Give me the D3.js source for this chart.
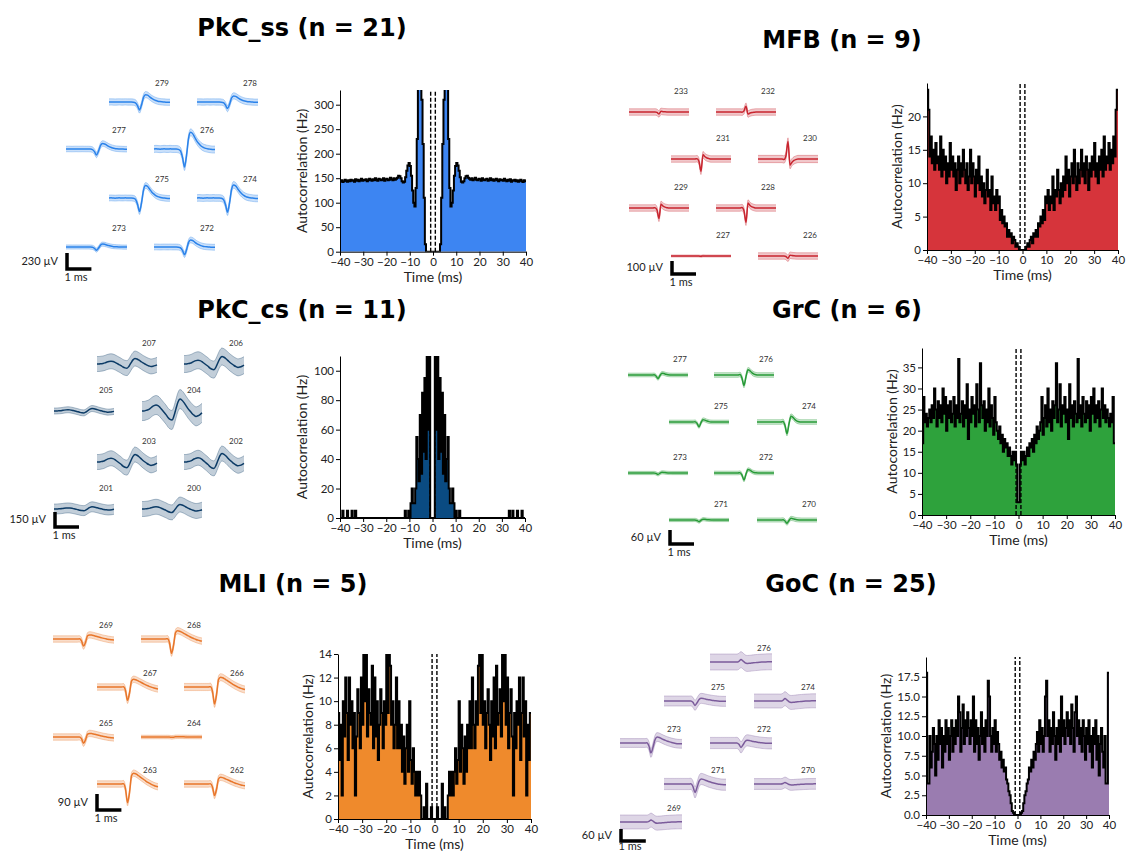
<!DOCTYPE html>
<html>
<head>
<meta charset="utf-8">
<script src="https://cdn.jsdelivr.net/npm/d3@7"></script>
<style>
body { margin: 0; background: #fff; }
svg text { font-family: Lato, "DejaVu Sans", sans-serif; fill: #222; }
.title { font-family: "DejaVu Sans", sans-serif; font-weight: bold; font-size: 24px; fill: #000; }
.tick text { font-size: 11.5px; }
.lab { font-size: 14px; }
.num { font-size: 8px; fill: #333; }
.bartxt { font-size: 11px; }
</style>
</head>
<body>
<div id="chart"></div>
<script>
// ACG bins are 0.5 ms wide; only the 0..40 ms half is stored (ACGs are symmetric)
const binWidth = 0.5;

const pkcSsAcg = [0,0,0,0,0,0,15,110,220,310,380,390,340,230,130,92,100,125,155,175,
  181,176,165,152,143,141,144,150,154,155,151,149,
  147,150,146,148,151,147,146,149,148,145,150,147,146,148,149,145,
  147,150,146,148,145,147,149,146,144,148,146,147,145,149,146,144,
  147,145,148,143,146,145,147,144,146,143,145,147,144,142,146,144];

const pkcCsAcg = [0,0,130,60,120,40,95,45,85,30,70,25,40,55,20,10,10,20,10,0,
  5,0,0,5,0,0,0,0,0,0,0,0,0,0,0,0,0,0,0,0,
  0,0,0,0,0,0,0,0,0,0,0,0,0,0,0,0,0,0,0,0,
  0,0,0,0,0,0,5,0,0,5,0,0,0,5,0,0,0,5,0,0];

const mliAcg = [0,0,1,0,0,0,3,0,1,0,0,2,4,2,4,2,4,6,3,5,
  10,4,8,6,3,7,4,8,6,10,6,12,8,6,10,8,13,14,9,14,
  8,10,6,9,11,8,5,10,7,12,6,13,8,9,11,7,14,10,14,8,
  12,6,9,11,7,2,9,6,10,8,12,5,9,12,7,10,2,8,5,9];

const mfbAcg = [0,0,0,0.5,1,0.5,1.5,2,1,2.5,2,3,2,4,3.5,5,4,6,4.5,8,
  7,9,6,8,7,11,6,9,8,12,9,7,10,8,11,9,14,10,12,8,
  11,13,10,15,11,9,13,10,12,15,11,13,10,14,12,9,13,11,14,12,
  16,11,13,10,14,12,15,11,17,12,14,13,16,12,15,13,17,14,21,24];

const grcAcg = [3,12,15,13,15,12,14,16,14,17,16,18,15,19,17,21,18,20,22,28,
  19,23,26,21,30,22,25,20,27,23,26,36,22,25,31,21,26,24,28,22,
  25,18,31,23,26,21,27,24,22,37,23,26,21,28,24,22,27,23,26,20,
  28,24,30,22,26,23,27,21,25,30,23,26,22,25,23,21,24,22,28,17];

const gocAcg = [0,0,0,0.3,0.5,1.5,2.5,3,4,4.5,6,5.5,7,6,8,7,9,10.5,8,12,
  9,11,8,10,15,17,10,12,8,11,9,13,10,7,11,9,12,8,15,10,
  12,9,11,13,10,12,9,14,11,8,13,15,10,12,9,11,8,12,10,7,
  11,9,12,8,10,6,11,9,12,7,10,5,9,11,8,6,10,4,4,18];

// mean waveform templates (31 samples over 2.5 ms), scaled per channel by a gain in µV
const pkcSsTemplate = [0,0.01,0,-0.01,0,0.01,0,0,0.01,0,0,0,-0.02,-0.1,-0.45,-1,-0.35,0.6,0.92,0.85,
  0.65,0.45,0.3,0.18,0.1,0.05,0.02,0,-0.02,-0.03,-0.03];
const pkcCsTemplate = [0,0,0.05,0.1,0.2,0.35,0.45,0.5,0.45,0.3,0.1,-0.1,-0.3,-0.55,-0.7,-0.75,-0.4,0.2,0.75,1,
  0.9,0.7,0.45,0.2,0,-0.2,-0.35,-0.45,-0.4,-0.3,-0.15];
const mliTemplate = [0,0,0,0,0,0,0,0,0,0,0,0,0,0.02,-0.25,-1,-0.45,0.45,0.58,0.55,
  0.48,0.4,0.32,0.24,0.16,0.09,0.03,-0.03,-0.08,-0.12,-0.15];
const mfbTemplate = [0,0,0,0,0,0,0,0,0,0,0,0,0,0.03,-0.2,-1,0.35,0.18,0.08,0.03,
  0,0,0,0,0,0,0,0,0,0,0];
const grcTemplate = [0,0,0,0,0,0,0,0,0,0,0,0,0,0.05,-0.3,-1,-0.15,0.5,0.4,0.2,
  0.08,0.02,0,0,0,0,0,0,0,0,0];
const gocTemplate = [0,0,0,0,0,0,0,0,0,0,0,0,0,0.02,-0.3,-1,-0.4,0.35,0.6,0.55,
  0.45,0.35,0.26,0.18,0.11,0.05,0,-0.04,-0.07,-0.08,-0.08];

const pkcSsChannels = [279,278,277,276,275,274,273,272];
const pkcSsGains = [115,95,85,260,195,205,45,110];
const pkcSsStds = [45,45,40,50,42,48,30,42];

const pkcCsChannels = [207,206,205,204,203,202,201,200];
const pkcCsGains = [55,75,25,120,75,85,22,45];
const pkcCsStds = [75,85,30,95,75,75,50,75];

const mliChannels = [269,268,267,266,265,264,263,262];
const mliGains = [40,80,75,95,35,2,105,65];
const mliStds = [18,18,18,20,18,10,18,18];

const mfbChannels = [233,232,231,230,229,228,227,226];
const mfbGains = [15,-45,95,-135,80,110,2,18];
const mfbStds = [25,25,25,28,25,25,8,25];

const grcChannels = [277,276,275,274,273,272,271,270];
const grcGains = [15,45,20,50,6,30,7,14];
const grcStds = [8,10,8,10,7,8,7,9];

const gocChannels = [276,275,274,273,272,271,270,269];
const gocGains = [-12,22,-12,50,22,42,-8,-10];
const gocStds = [40,25,35,22,28,28,27,35];

const xTicks = [-40,-30,-20,-10,0,10,20,30,40];

const slotsA = [[1,0],[3,0],[0,1],[2,1],[1,2],[3,2],[0,3],[2,3]];
const slotsB = [[0,0],[2,0],[1,1],[3,1],[0,2],[2,2],[1,3],[3,3]];
const slotsC = [[2,0],[1,1],[3,1],[0,2],[2,2],[1,3],[3,3],[0,4]];

const panels = [
  {title: "PkC_ss (n = 21)", tx: 302, ty: 36, fill: "#3d85f2", wave: "#2a82ea",
   acg: pkcSsAcg, yMax: 330, yTicks: d3.range(0, 301, 50), fmt: d3.format("d"),
   ax: {x0: 340, x1: 526, yb: 251.7, yt: 90}, ylabDx: 38,
   template: pkcSsTemplate, channels: pkcSsChannels, gains: pkcSsGains, stds: pkcSsStds,
   cols: [66,109,154,197], rows: [102,149,198,247], slots: slotsA, w: 61, numDy: 16,
   bar: {uv: 230, px: 16, x: 67, y: 269, msDy: 12}},
  {title: "PkC_cs (n = 11)", tx: 302, ty: 318, fill: "#0a4b82", wave: "#0c3b66",
   acg: pkcCsAcg, yMax: 110, yTicks: d3.range(0, 101, 20), fmt: d3.format("d"),
   ax: {x0: 340, x1: 525, yb: 518, yt: 356}, ylabDx: 38,
   template: pkcCsTemplate, channels: pkcCsChannels, gains: pkcCsGains, stds: pkcCsStds,
   cols: [54,97,142,184], rows: [364,411,462,509], slots: slotsA, w: 60, numDy: 18,
   bar: {uv: 150, px: 15, x: 55, y: 527, msDy: 12}},
  {title: "MLI (n = 5)", tx: 293, ty: 592, fill: "#ef8a2c", wave: "#e8762a",
   acg: mliAcg, yMax: 14, yTicks: d3.range(0, 15, 2), fmt: d3.format("d"),
   ax: {x0: 338, x1: 531, yb: 819, yt: 654}, ylabDx: 30,
   template: mliTemplate, channels: mliChannels, gains: mliGains, stds: mliStds,
   cols: [53,97,141,184], rows: [639,687,737,784], slots: slotsB, w: 61, numDy: 11,
   bar: {uv: 90, px: 16, x: 97, y: 810, msDy: 12}},
  {title: "MFB (n = 9)", tx: 842, ty: 48, fill: "#d6343b", wave: "#c8252f",
   acg: mfbAcg, yMax: 25, yTicks: d3.range(0, 21, 5), fmt: d3.format("d"),
   ax: {x0: 927, x1: 1118, yb: 250, yt: 83}, ylabDx: 30,
   template: mfbTemplate, channels: mfbChannels, gains: mfbGains, stds: mfbStds,
   cols: [629,671,716,758], rows: [112,159,208,256], slots: slotsB, w: 60, numDy: 18,
   bar: {uv: 100, px: 13, x: 672, y: 274, msDy: 12}},
  {title: "GrC (n = 6)", tx: 847, ty: 318, fill: "#2ea23c", wave: "#279a37",
   acg: grcAcg, yMax: 39.6, yTicks: d3.range(0, 36, 5), fmt: d3.format("d"),
   ax: {x0: 922, x1: 1115, yb: 515, yt: 348}, ylabDx: 30,
   template: grcTemplate, channels: grcChannels, gains: grcGains, stds: grcStds,
   cols: [628,669,714,757], rows: [375,422,473,520], slots: slotsB, w: 60, numDy: 13,
   bar: {uv: 60, px: 14, x: 670, y: 544, msDy: 12}},
  {title: "GoC (n = 25)", tx: 851, ty: 592, fill: "#9a7cb0", wave: "#7b5b9b",
   acg: gocAcg, yMax: 20, yTicks: d3.range(0, 17.6, 2.5), fmt: d3.format(".1f"),
   ax: {x0: 926, x1: 1109, yb: 815, yt: 657}, ylabDx: 40,
   template: gocTemplate, channels: gocChannels, gains: gocGains, stds: gocStds,
   cols: [620,664,710,754], rows: [662,701,743,784,822], slots: slotsC, w: 62, numDy: 11,
   bar: {uv: 60, px: 12, x: 621, y: 841, msDy: 9}}
];

const svg = d3.select("#chart").append("svg")
  .attr("width", 1128)
  .attr("height", 851);

panels.forEach(function(p, pi) {
  const g = svg.append("g");

  g.append("text").attr("class", "title")
    .attr("x", p.tx).attr("y", p.ty)
    .attr("text-anchor", "middle")
    .text(p.title);

  // ---- autocorrelogram ----
  const x = d3.scaleLinear().domain([-40, 40]).range([p.ax.x0, p.ax.x1]);
  const y = d3.scaleLinear().domain([0, p.yMax]).range([p.ax.yb, p.ax.yt]);

  const full = p.acg.slice().reverse().concat(p.acg);
  const pts = full.map(function(v, i) { return {t: -40 + i * binWidth, v: v}; });
  pts.push({t: 40, v: full[full.length - 1]});

  const clipId = "clip" + pi;
  g.append("clipPath").attr("id", clipId).append("rect")
    .attr("x", p.ax.x0).attr("y", p.ax.yt)
    .attr("width", p.ax.x1 - p.ax.x0).attr("height", p.ax.yb - p.ax.yt);

  const plot = g.append("g").attr("clip-path", "url(#" + clipId + ")");

  plot.append("path").datum(pts)
    .attr("fill", p.fill)
    .attr("d", d3.area().curve(d3.curveStepAfter)
      .x(function(d) { return x(d.t); })
      .y0(y(0))
      .y1(function(d) { return y(d.v); }));

  plot.append("path").datum(pts)
    .attr("fill", "none")
    .attr("stroke", "#000")
    .attr("stroke-width", 2)
    .attr("d", d3.line().curve(d3.curveStepAfter)
      .x(function(d) { return x(d.t); })
      .y(function(d) { return y(d.v); }));

  [-1, 1].forEach(function(t) {
    g.append("line")
      .attr("x1", x(t)).attr("x2", x(t))
      .attr("y1", p.ax.yb).attr("y2", p.ax.yt)
      .attr("stroke", "#000").attr("stroke-width", 1.4)
      .attr("stroke-dasharray", "4,2");
  });

  g.append("g")
    .attr("transform", "translate(0," + p.ax.yb + ")")
    .call(d3.axisBottom(x).tickValues(xTicks).tickSize(4).tickSizeOuter(0).tickPadding(2));

  g.append("g")
    .attr("transform", "translate(" + p.ax.x0 + ",0)")
    .call(d3.axisLeft(y).tickValues(p.yTicks).tickFormat(p.fmt).tickSize(4).tickSizeOuter(0).tickPadding(2));

  g.selectAll(".domain").attr("stroke", "#000");
  g.selectAll(".tick line").attr("stroke", "#000");

  g.append("text").attr("class", "lab")
    .attr("text-anchor", "middle")
    .attr("transform", "translate(" + (p.ax.x0 - p.ylabDx) + "," + ((p.ax.yb + p.ax.yt) / 2) + ") rotate(-90)")
    .attr("dy", "0.35em")
    .text("Autocorrelation (Hz)");

  g.append("text").attr("class", "lab")
    .attr("text-anchor", "middle")
    .attr("x", (p.ax.x0 + p.ax.x1) / 2)
    .attr("y", p.ax.yb + 30)
    .text("Time (ms)");

  // ---- waveforms ----
  const dur = 2.5;
  const n = p.template.length;
  p.channels.forEach(function(ch, ci) {
    const slot = p.slots[ci];
    const x0 = p.cols[slot[0]];
    const base = p.rows[slot[1]];
    const wx = d3.scaleLinear().domain([0, dur]).range([x0, x0 + p.w]);
    const wy = d3.scaleLinear().domain([0, p.bar.uv]).range([base, base - p.bar.px]);
    const samples = p.template.map(function(v, i) {
      const m = v * p.gains[ci];
      return {t: i * dur / (n - 1), m: m, lo: m - p.stds[ci], hi: m + p.stds[ci]};
    });
    g.append("path").datum(samples)
      .attr("fill", p.wave).attr("fill-opacity", 0.25)
      .attr("d", d3.area().curve(d3.curveMonotoneX)
        .x(function(d) { return wx(d.t); })
        .y0(function(d) { return wy(d.lo); })
        .y1(function(d) { return wy(d.hi); }));
    ["lo", "hi"].forEach(function(k) {
      g.append("path").datum(samples)
        .attr("fill", "none").attr("stroke", p.wave)
        .attr("stroke-opacity", 0.45).attr("stroke-width", 0.7)
        .attr("d", d3.line().curve(d3.curveMonotoneX)
          .x(function(d) { return wx(d.t); })
          .y(function(d) { return wy(d[k]); }));
    });
    g.append("path").datum(samples)
      .attr("fill", "none").attr("stroke", p.wave).attr("stroke-width", 1.5)
      .attr("d", d3.line().curve(d3.curveMonotoneX)
        .x(function(d) { return wx(d.t); })
        .y(function(d) { return wy(d.m); }));
    g.append("text").attr("class", "num")
      .attr("x", x0 + p.w - 1).attr("y", base - p.numDy)
      .attr("text-anchor", "end")
      .text(ch);
  });

  // scale bar
  const bx = d3.scaleLinear().domain([0, dur]).range([0, p.w]);
  const bw = bx(1);
  g.append("path")
    .attr("d", "M" + p.bar.x + "," + (p.bar.y - p.bar.px) + "V" + p.bar.y + "H" + (p.bar.x + bw))
    .attr("fill", "none").attr("stroke", "#000").attr("stroke-width", 3.5);
  g.append("text").attr("class", "bartxt")
    .attr("x", p.bar.x - 9).attr("y", p.bar.y - p.bar.px / 2)
    .attr("dy", "0.35em").attr("text-anchor", "end")
    .text(p.bar.uv + " µV");
  g.append("text").attr("class", "bartxt")
    .attr("x", p.bar.x + 9).attr("y", p.bar.y + p.bar.msDy)
    .attr("text-anchor", "middle")
    .text("1 ms");
});
</script>
</body>
</html>
